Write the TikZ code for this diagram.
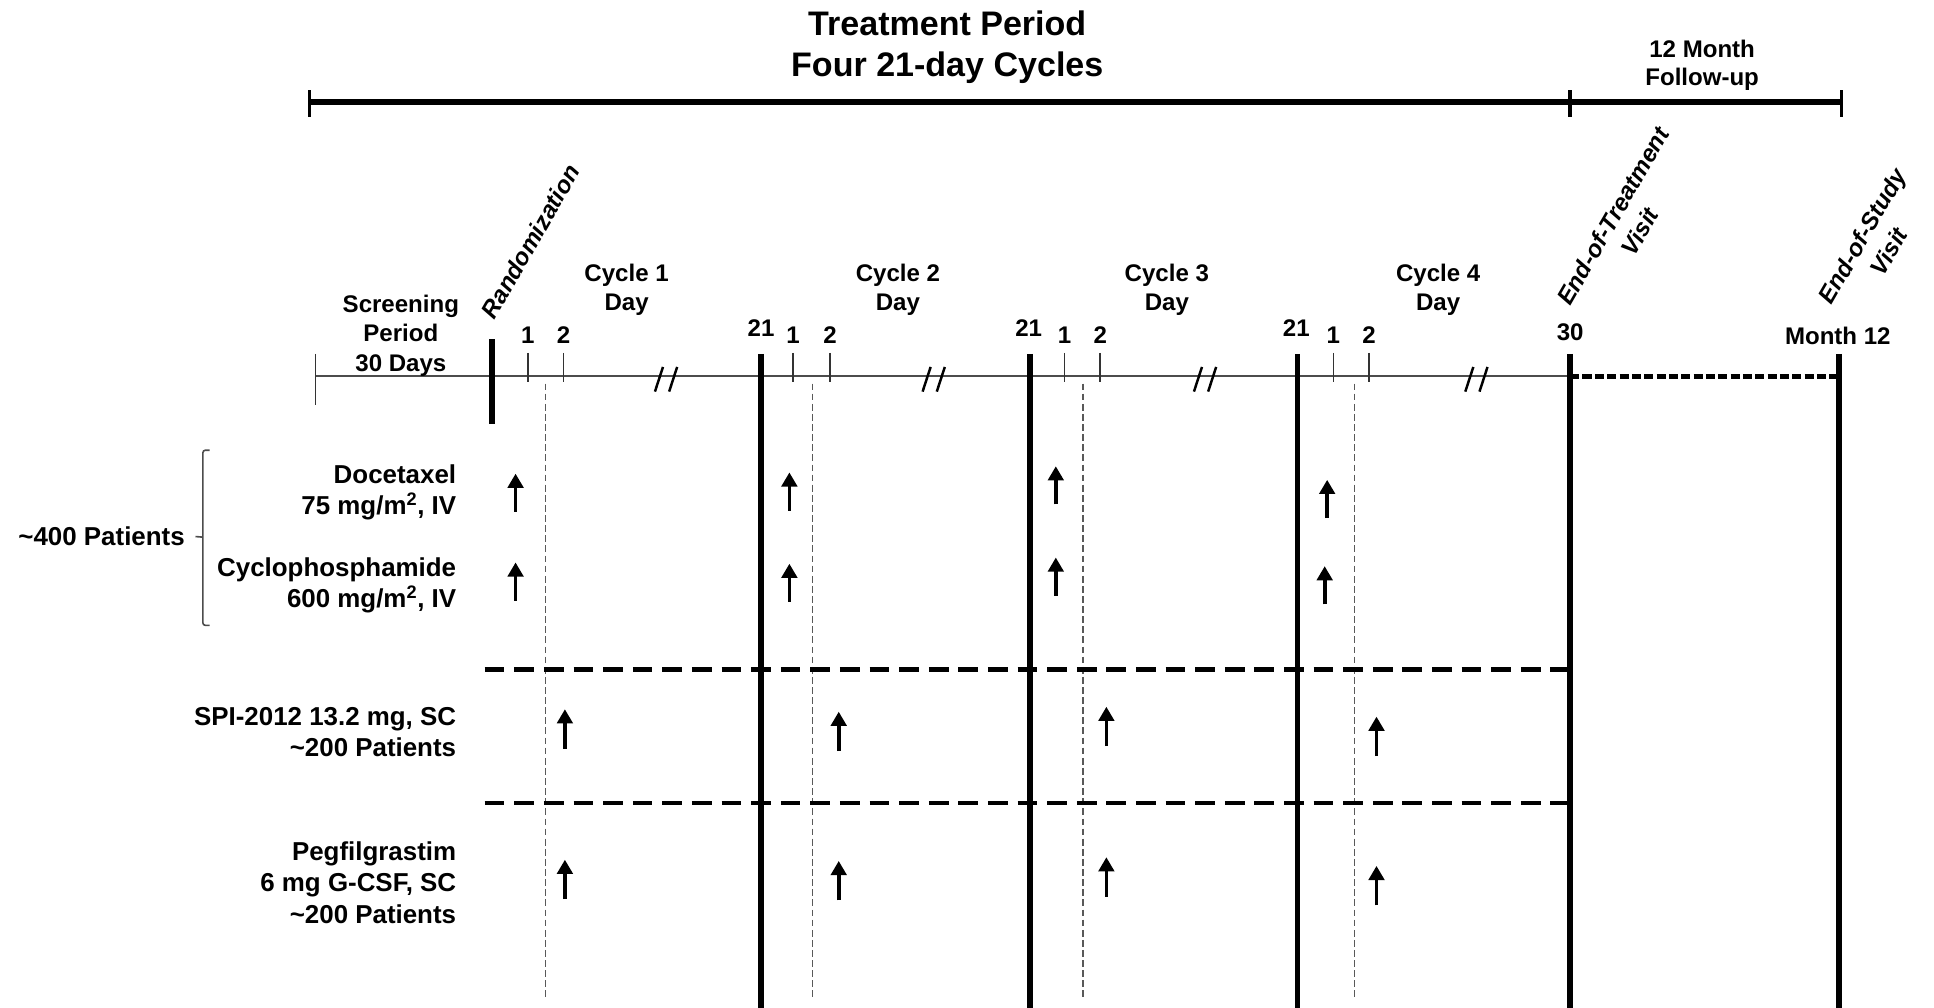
\documentclass[tikz,border=0pt]{standalone}
\usepackage{fontspec}
\setmainfont{Liberation Sans}
\usetikzlibrary{arrows.meta,calc}
\begin{document}
\begin{tikzpicture}[x=1pt,y=-1pt,
  tl/.style={font=\bfseries\fontsize{19.5}{24}\selectfont, inner sep=0pt, align=center},
  ttl/.style={font=\bfseries\fontsize{27.6}{33}\selectfont, inner sep=0pt, align=center},
  rowlbl/.style={font=\bfseries\fontsize{21}{25.5}\selectfont, inner sep=0pt, align=right, anchor=east},
  rotlbl/.style={font=\bfseries\itshape\fontsize{19.5}{23}\selectfont, inner sep=0pt, rotate=60},
  thickbar/.style={line width=4.5pt},
  tline/.style={line width=1.4pt, draw=black!70},
  daytick/.style={line width=1.2pt, draw=black!80},
  vdash/.style={line width=1pt, draw=black!65, dash pattern=on 5.5pt off 2.7pt},
  brk/.style={line width=2pt},
  hdash/.style={line width=4pt, dash pattern=on 16pt off 8pt},
  dose/.style={line width=3pt, -{Triangle[width=12.5pt,length=11.5pt]}},
  brace/.style={line width=1.3pt, draw=black!70, rounded corners=2pt}
]
\useasboundingbox[fill=white] (0,0) rectangle (1568,817);

% ---- header
\node[ttl] (title) at (768,38) {Treatment Period\\Four 21-day Cycles};
\node[tl, font=\bfseries\fontsize{19.5}{23}\selectfont] (fu) at (1380,53) {12 Month\\Follow-up};
\coordinate (hbL) at (251,83);
\coordinate (hbM) at (1273,83);
\coordinate (hbR) at (1493,83);
\draw[line width=5pt] (hbL) -- (hbR);
\foreach \x in {251,1273,1493} \draw[line width=3pt] (\x,73) -- (\x,95);

% ---- timeline
\coordinate (tlS) at (256,305);
\coordinate (tlE) at (1273,305);
\coordinate (tlM) at (1491,305);
\draw[tline] (tlS) -- (tlE);
\draw[daytick] (256,287) -- (256,328);
\draw[thickbar] (399,275) -- (399,344);
\foreach \x in {617,835,1052,1273,1491} \draw[thickbar] (\x,287) -- (\x,822);
\draw[line width=4pt, dash pattern=on 7.5pt off 2.5pt] (tlE) -- (tlM);
\foreach \x in {428,457,643,673,863,892,1081,1110} \draw[daytick] (\x,286) -- (\x,310);
\foreach \x in {442,659,878,1098} \draw[vdash] (\x,311) -- (\x,810);
\foreach \x in {540,757,977,1197} {
  \draw[brk] (\x-9,317.5) -- (\x-2.5,297.5);
  \draw[brk] (\x+2.5,317.5) -- (\x+9,297.5);
}

% ---- timeline labels
\node[tl] (scr) at (325,272) {Screening\\Period\\30 Days};
\node[tl] (c1) at (508,235) {Cycle 1\\Day};
\node[tl] (c2) at (728,235) {Cycle 2\\Day};
\node[tl] (c3) at (946,235) {Cycle 3\\Day};
\node[tl] (c4) at (1166,235) {Cycle 4\\Day};
\node[tl] (n11) at (428,272) {1};
\node[tl] (n12) at (457,272) {2};
\node[tl] (n21a) at (617,266) {21};
\node[tl] (n21) at (643,272) {1};
\node[tl] (n22) at (673,272) {2};
\node[tl] (n21b) at (834,266) {21};
\node[tl] (n31) at (863,272) {1};
\node[tl] (n32) at (892,272) {2};
\node[tl] (n21c) at (1051,266) {21};
\node[tl] (n41) at (1081,272) {1};
\node[tl] (n42) at (1110,272) {2};
\node[tl] (n30) at (1273,269) {30};
\node[tl] (m12) at (1490,272) {Month 12};

\node[rotlbl, anchor=base west] (rand) at (401,260) {Randomization};
\node[rotlbl, anchor=base west] (eot1) at (1273,249) {End-of-Treatment};
\node[rotlbl, anchor=base] (eot2) at ($(eot1.base)+(21.7,12.5)$) {Visit};
\node[rotlbl, anchor=base west] (eos1) at (1485,248) {End-of-Study};
\node[rotlbl, anchor=base] (eos2) at ($(eos1.base)+(21.7,12.5)$) {Visit};

% ---- arm labels
\node[rowlbl] (doc) at (370,399) {Docetaxel\\75 mg/m\textsuperscript{2}, IV};
\node[rowlbl] (cyc) at (370,474.5) {Cyclophosphamide\\600 mg/m\textsuperscript{2}, IV};
\node[rowlbl] (spi) at (370,593.5) {SPI-2012 13.2 mg, SC\\\textasciitilde200 Patients};
\node[rowlbl] (peg) at (370,715.5) {Pegfilgrastim\\6 mg G-CSF, SC\\\textasciitilde200 Patients};
\node[rowlbl] (p400) at (150,435) {\textasciitilde400 Patients};
\draw[brace] (170,365) -- (164.5,365) -- (164.5,507) -- (170,507);
\draw[brace] (164.5,435.5) -- (p400.east -| 158.5,0);

% ---- separators
\draw[hdash] (393,543) -- (1273,543);
\draw[hdash] (393,651) -- (1273,651);

% ---- dose arrows
\foreach \x/\t in {418/384,640/383,856/378,1076/389} \draw[dose] (\x,\t+31) -- (\x,\t);
\foreach \x/\t in {418/456,640/457,856/452,1074/459} \draw[dose] (\x,\t+31) -- (\x,\t);
\foreach \x/\t in {458/575,680/577,897/573,1116/581} \draw[dose] (\x,\t+32) -- (\x,\t);
\foreach \x/\t in {458/697,680/698,897/695,1116/702} \draw[dose] (\x,\t+32) -- (\x,\t);
\end{tikzpicture}
\end{document}
